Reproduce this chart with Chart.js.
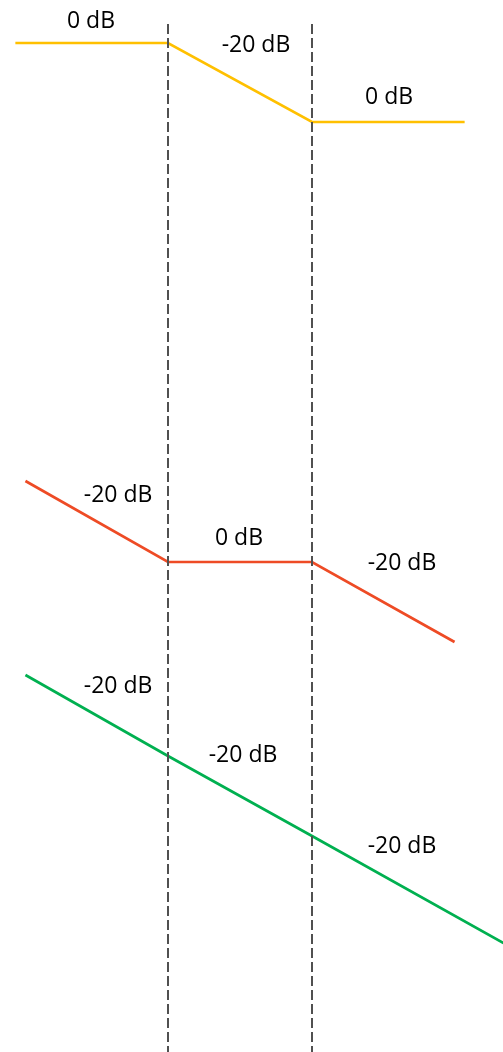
<!DOCTYPE html>
<html>
<head>
<meta charset="utf-8">
<script src="https://cdn.jsdelivr.net/npm/chart.js@4"></script>
<style>
  html, body { margin: 0; padding: 0; background: #fff; }
  #wrap { width: 503px; height: 1052px; }
</style>
</head>
<body>
<div id="wrap"><canvas id="bode" width="503" height="1052"></canvas></div>
<script>
// x en décadas (0 y 1 = frecuencias de corte), y en dB
const breaks = [0, 1];

const yellowX = [-1.06, 0, 1, 2.06];
const yellowY = [-10.75, -10.75, -30.5, -30.5];

const redX = [-0.99, 0, 1, 1.99];
const redY = [-120.25, -140.5, -140.5, -160.5];

const greenX = [-0.99, 0, 1, 2.33];
const greenY = [-168.75, -189, -209, -235.75];

// etiquetas de pendiente
const slopeText = ["0 dB", "-20 dB", "0 dB", "-20 dB", "0 dB", "-20 dB", "-20 dB", "-20 dB", "-20 dB"];
const slopeX = [-0.535, 0.611, 1.535, -0.347, 0.493, 1.625, -0.347, 0.521, 1.625];
const slopeY = [-5.25, -11.25, -24.25, -123.75, -134.5, -140.75, -171.5, -188.75, -211.5];

const guideTop = -6;
const guideBottom = -263;

function pts(xs, ys) {
    return xs.map((x, i) => ({ x: x, y: ys[i] }));
}

const guides = breaks.map(b => ({
    data: [{ x: b, y: guideTop }, { x: b, y: guideBottom }],
    borderColor: "#505050",
    borderWidth: 2,
    borderDash: [10, 4],
    pointRadius: 0
}));

const labelPlugin = {
    id: "slopeLabels",
    afterDatasetsDraw(chart) {
        const ctx = chart.ctx;
        const xs = chart.scales.x;
        const ys = chart.scales.y;
        ctx.save();
        ctx.fillStyle = "#000";
        ctx.font = "23px 'Open Sans', sans-serif";
        ctx.textAlign = "center";
        ctx.textBaseline = "middle";
        slopeText.forEach((t, i) => {
            ctx.fillText(t, xs.getPixelForValue(slopeX[i]), ys.getPixelForValue(slopeY[i]));
        });
        ctx.restore();
    }
};

new Chart(document.getElementById("bode"), {
    type: "line",
    data: {
        datasets: [
            ...guides,
            { data: pts(yellowX, yellowY), borderColor: "#FFC000", borderWidth: 2.7, pointRadius: 0, tension: 0 },
            { data: pts(redX, redY), borderColor: "#EE4B25", borderWidth: 2.7, pointRadius: 0, tension: 0 },
            { data: pts(greenX, greenY), borderColor: "#00B050", borderWidth: 2.7, pointRadius: 0, tension: 0 }
        ]
    },
    options: {
        responsive: false,
        animation: false,
        layout: { padding: 0 },
        plugins: { legend: { display: false }, tooltip: { enabled: false } },
        scales: {
            x: { type: "linear", display: false, min: -1.1667, max: 2.3264 },
            y: { type: "linear", display: false, min: -263, max: 0 }
        }
    },
    plugins: [labelPlugin]
});
</script>
</body>
</html>
